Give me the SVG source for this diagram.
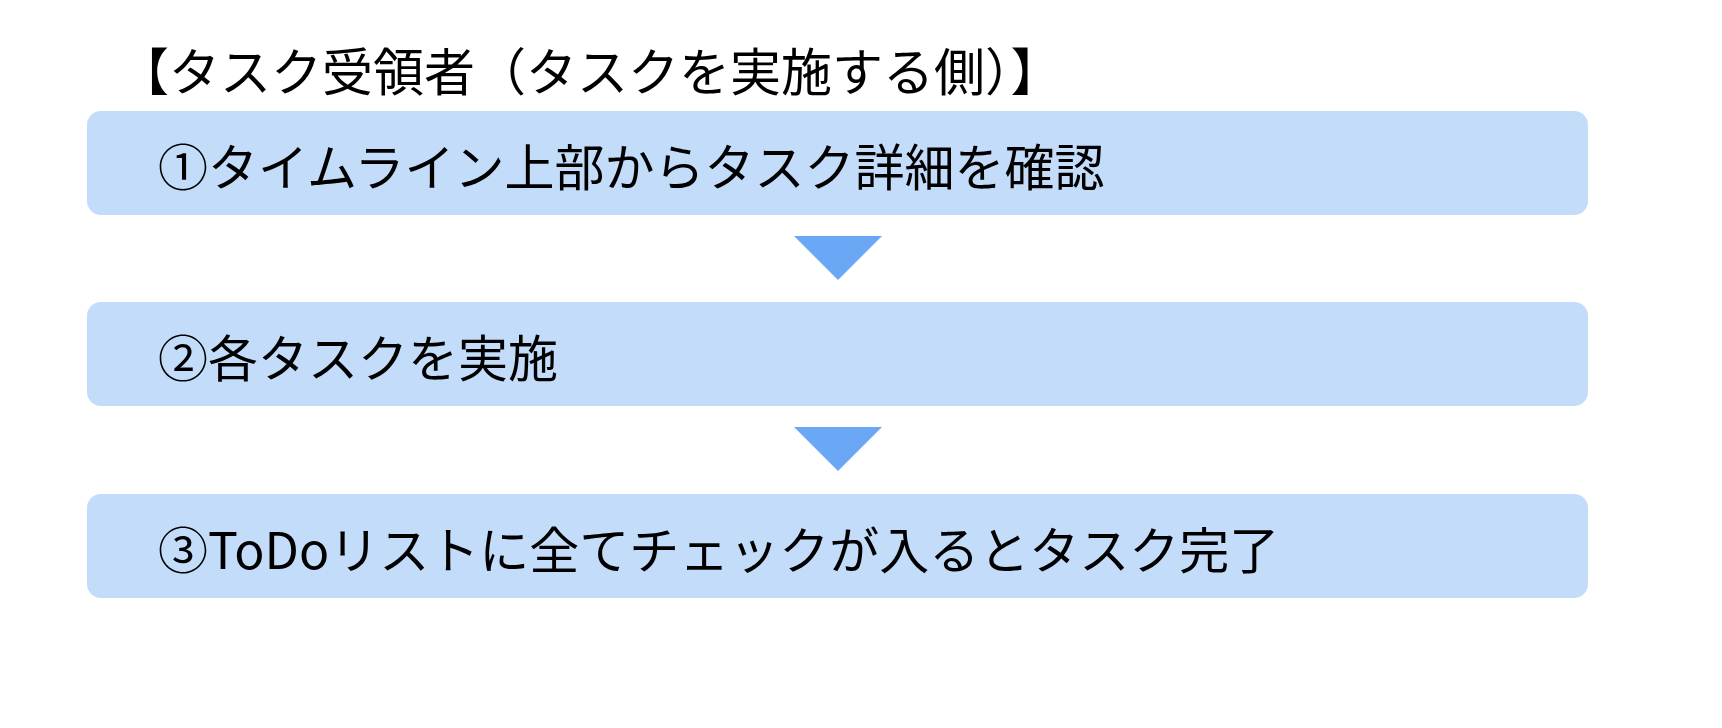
<svg xmlns="http://www.w3.org/2000/svg" width="1722" height="728" viewBox="0 0 1722 728">
<style>
.box{fill:#C3DCF9}
.arr{fill:#6AA8F5}
text{font-family:"Noto Sans CJK JP","Noto Sans",sans-serif;font-size:50px;fill:#000}
</style>
<rect width="1722" height="728" fill="#fff"/>
<text id="title" x="118" y="91" style="font-size:51px">【タスク受領者（タスクを実施する側）】</text>
<g id="n1"><rect class="box" x="87" y="111" width="1501" height="104" rx="14"/><text x="158" y="186">①タイムライン上部からタスク詳細を確認</text></g>
<g id="n2"><rect class="box" x="87" y="302" width="1501" height="104" rx="14"/><text x="158" y="377">②各タスクを実施</text></g>
<g id="n3"><rect class="box" x="87" y="494" width="1501" height="104" rx="14"/><text x="158" y="569">③ToDoリストに全てチェックが入るとタスク完了</text></g>
<g id="connectors">
<polygon class="arr" points="794,236 882,236 838,280"/>
<polygon class="arr" points="794,427 882,427 838,471"/>
</g>
</svg>
